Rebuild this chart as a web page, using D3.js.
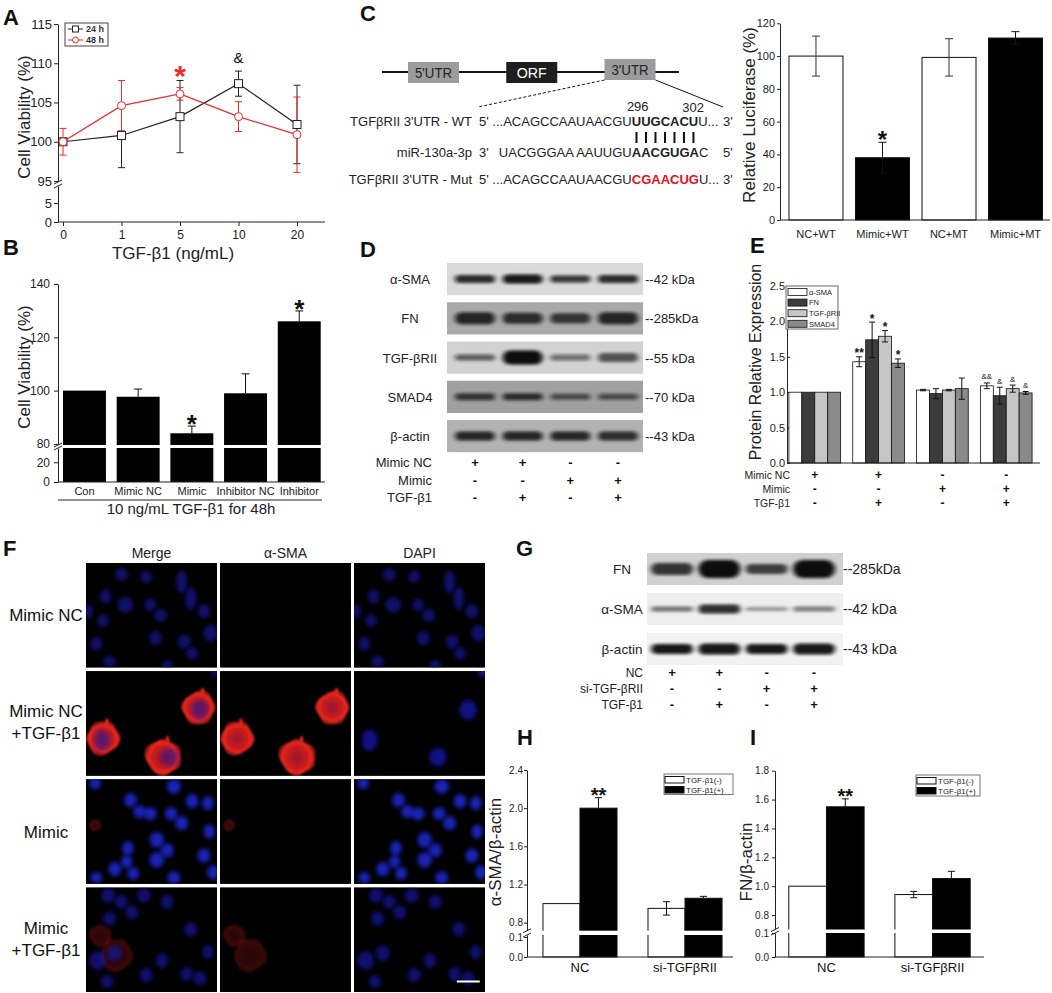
<!DOCTYPE html>
<html>
<head>
<meta charset="utf-8">
<script src="https://cdn.jsdelivr.net/npm/d3@7/dist/d3.min.js"></script>
<style>
body { margin: 0; background: #fff; }
svg { display: block; }
</style>
</head>
<body>
<script>
// ---------------- data ----------------
// A: viability vs dose
var doseLabels = ["0", "1", "5", "10", "20"];
var via24 = [100.0, 100.8, 103.2, 107.4, 102.2];
var err24 = [0.3, 4.1, 4.6, 1.6, 5.0];
var via48 = [100.0, 104.6, 106.1, 103.2, 100.9];
var err48 = [1.7, 3.2, 0.8, 1.9, 4.8];

// B: viability after 48h
var groupsB = ["Con", "Mimic NC", "Mimic", "Inhibitor NC", "Inhibitor"];
var viaB = [100, 97.7, 84.0, 99.0, 126.0];
var errB = [0, 2.9, 2.7, 7.3, 3.9];
var sigB = ["", "", "*", "", "*"];

// C: construct + luciferase
var geneParts = ["5'UTR", "ORF", "3'UTR"];
var seqNames = ["TGFβRII 3'UTR - WT", "miR-130a-3p", "TGFβRII 3'UTR - Mut"];
var seqHead = ["5' ...ACAGCCAAUAACGU", "3'", "5' ...ACAGCCAAUAACGU"];
var seqPre = ["", "UACGGGAA AAUUGU", ""];
var seqSite = ["UUGCACU", "AACGUGA", "CGAACUG"];
var seqTail = ["U...", "C", "U..."];
var seqEnd = ["3'", "5'", "3'"];
var sitePos = ["296", "302"];
var groupsLuc = ["NC+WT", "Mimic+WT", "NC+MT", "Mimic+MT"];
var lucVals = [100, 38.0, 99.2, 111.0];
var lucErr = [12.2, 9.4, 11.4, 3.9];
var lucSig = ["", "*", "", ""];

// D: western blot
var blotD = ["α-SMA", "FN", "TGF-βRII", "SMAD4", "β-actin"];
var kdaD = ["--42  kDa", "--285kDa", "--55  kDa", "--70  kDa", "--43  kDa"];
var bandD = [[0.85, 0.95, 0.8, 0.85], [0.85, 0.8, 0.75, 0.85], [0.6, 1.0, 0.5, 0.65], [0.75, 0.8, 0.6, 0.6], [0.85, 0.85, 0.85, 0.8]];
var treatD = ["Mimic NC", "Mimic", "TGF-β1"];
var signsD = [["+", "+", "-", "-"], ["-", "-", "+", "+"], ["-", "+", "-", "+"]];

// E: quantification
var proteinsE = ["α-SMA", "FN", "TGF-βRII", "SMAD4"];
var exprE = [[1, 1, 1, 1], [1.43, 1.74, 1.79, 1.41], [1.03, 0.98, 1.03, 1.05], [1.09, 0.95, 1.05, 0.99]];
var errE = [[0, 0, 0, 0], [0.07, 0.25, 0.08, 0.06], [0.01, 0.07, 0.01, 0.15], [0.04, 0.12, 0.05, 0.02]];
var sigE = [["", "", "", ""], ["**", "*", "*", "*"], ["", "", "", ""], ["&&", "&", "&", "&"]];

// F: immunofluorescence
var colsF = ["Merge", "α-SMA", "DAPI"];
var rowsF = [["Mimic NC"], ["Mimic NC", "+TGF-β1"], ["Mimic"], ["Mimic", "+TGF-β1"]];
var nucleiF = [
  [[0.27,0.11,.045,.045],[0.46,0.13,.04,.045],[0.73,0.18,.04,.08],[0.15,0.32,.04,.05],[0.30,0.40,.055,.055],
   [0.49,0.40,.04,.045],[0.57,0.50,.045,.045],[0.80,0.34,.04,.08],[0.90,0.46,.045,.05],[0.95,0.67,.05,.06],
   [0.13,0.55,.04,.045],[0.08,0.77,.04,.05],[0.53,0.72,.045,.05],[0.75,0.75,.045,.05],[0.81,0.86,.04,.045],
   [0.18,0.94,.045,.04],[0.02,0.46,.03,.05],[0.62,0.97,.04,.03]],
  [[0.87,0.37,.06,.07],[0.12,0.66,.055,.075],[0.64,0.82,.06,.065],[0.98,0.02,.03,.03]],
  [[0.07,0.04,.04,.04],[0.34,0.20,.045,.05],[0.41,0.31,.045,.045],[0.49,0.33,.045,.045],[0.67,0.07,.05,.05],
   [0.81,0.21,.045,.05],[0.93,0.23,.04,.05],[0.65,0.33,.045,.045],[0.73,0.42,.045,.05],[0.94,0.50,.04,.05],
   [0.54,0.58,.05,.055],[0.62,0.68,.045,.05],[0.32,0.66,.04,.05],[0.54,0.77,.05,.055],[0.31,0.79,.04,.045],
   [0.22,0.86,.045,.05],[0.36,0.90,.04,.045],[0.67,0.94,.045,.045],[0.90,0.73,.045,.05],[0.08,0.94,.04,.04],[0.97,0.89,.04,.05]],
  [[0.17,0.08,.05,.05],[0.27,0.14,.045,.05],[0.44,0.08,.05,.05],[0.62,0.14,.045,.05],[0.18,0.30,.045,.05],
   [0.35,0.24,.045,.05],[0.80,0.40,.045,.05],[0.93,0.62,.04,.05],[0.09,0.70,.06,.065],[0.22,0.63,.05,.055],
   [0.58,0.70,.045,.05],[0.77,0.83,.045,.05],[0.16,0.90,.045,.045],[0.46,0.84,.045,.05],[0.87,0.87,.045,.05]]
];
var redCellsF = [[], [[0.13, 0.64, 0.12], [0.59, 0.82, 0.13], [0.86, 0.35, 0.12]], [[0.07, 0.44, 0.04]], [[0.23, 0.65, 0.12], [0.11, 0.46, 0.08]]];
var redLevelF = [0, 1, 0.3, 0.25];

// G: knockdown blot
var blotG = ["FN", "α-SMA", "β-actin"];
var kdaG = ["--285kDa", "--42  kDa", "--43  kDa"];
var bandG = [[0.8, 1.0, 0.75, 1.0], [0.55, 0.85, 0.4, 0.5], [0.95, 0.95, 0.95, 0.95]];
var treatG = ["NC", "si-TGF-βRII", "TGF-β1"];
var signsG = [["+", "+", "-", "-"], ["-", "-", "+", "+"], ["-", "+", "-", "+"]];

// H / I
var groupsHI = ["NC", "si-TGFβRII"];
var smaH = [[1.0, 2.0], [0.95, 1.056]];
var smaHErr = [[0, 0.11], [0.07, 0.02]];
var fnI = [[1.0, 1.55], [0.942, 1.053]];
var fnIErr = [[0, 0.055], [0.022, 0.05]];
var legendHI = ["TGF-β1(-)", "TGF-β1(+)"];

// ---------------- setup ----------------
var FONT = "Arial, 'Liberation Sans', Helvetica, sans-serif";
var svg = d3.select("body").append("svg").attr("width", 1052).attr("height", 993).attr("font-family", FONT);
svg.append("rect").attr("width", 1052).attr("height", 993).attr("fill", "#fff");
var defs = svg.append("defs");

defs.append("filter").attr("id", "bandBlur").attr("x", "-30%").attr("y", "-100%").attr("width", "160%").attr("height", "300%")
  .append("feGaussianBlur").attr("stdDeviation", "2.4 1.4");
defs.append("filter").attr("id", "cellBlur").attr("x", "-50%").attr("y", "-50%").attr("width", "200%").attr("height", "200%")
  .append("feGaussianBlur").attr("stdDeviation", "1.3");
defs.append("filter").attr("id", "nucBlur").attr("x", "-60%").attr("y", "-60%").attr("width", "220%").attr("height", "220%")
  .append("feGaussianBlur").attr("stdDeviation", "2.1");
var rg = defs.append("radialGradient").attr("id", "redGrad");
rg.append("stop").attr("offset", "0%").attr("stop-color", "#9c1630");
rg.append("stop").attr("offset", "60%").attr("stop-color", "#c41c1c");
rg.append("stop").attr("offset", "86%").attr("stop-color", "#f2281e");
rg.append("stop").attr("offset", "100%").attr("stop-color", "#f2281e").attr("stop-opacity", 0.4);

function addText(g, x, y, s, o) {
  o = o || {};
  var t = g.append("text").attr("x", x).attr("y", y).text(s)
    .attr("font-size", o.size || 12)
    .attr("text-anchor", o.anchor || "start")
    .attr("fill", o.fill || "#1a1a1a");
  if (o.weight) t.attr("font-weight", o.weight);
  if (o.len) t.attr("textLength", o.len).attr("lengthAdjust", "spacingAndGlyphs");
  if (o.rotate) t.attr("transform", "rotate(" + o.rotate + "," + x + "," + y + ")");
  return t;
}

function styleAxis(a, fs) {
  a.attr("font-family", FONT).attr("font-size", fs);
  a.selectAll("path, line").attr("stroke", "#222");
  a.selectAll("text").attr("fill", "#222");
  return a;
}

function hline(g, x1, x2, y) {
  g.append("line").attr("x1", x1).attr("x2", x2).attr("y1", y).attr("y2", y).attr("stroke", "#222");
}

function errorBar(g, x, yTop, yBot, cap, color, bottomCap) {
  var c = color || "#111";
  g.append("line").attr("x1", x).attr("x2", x).attr("y1", yTop).attr("y2", yBot).attr("stroke", c);
  g.append("line").attr("x1", x - cap).attr("x2", x + cap).attr("y1", yTop).attr("y2", yTop).attr("stroke", c);
  if (bottomCap) g.append("line").attr("x1", x - cap).attr("x2", x + cap).attr("y1", yBot).attr("y2", yBot).attr("stroke", c);
}

function mark(g, x, yc, s, size, fill, weight) {
  var base = s.indexOf("*") >= 0 ? yc + 0.58 * size : yc + 0.36 * size;
  addText(g, x, base, s, {size: size, anchor: "middle", fill: fill || "#111", weight: weight});
}

function axisBreak(g, x, yA, yB) {
  g.append("rect").attr("x", x - 5).attr("y", yA).attr("width", 10).attr("height", yB - yA).attr("fill", "#fff");
  [yA, yB].forEach(function (y) {
    g.append("line").attr("x1", x - 4).attr("y1", y + 2).attr("x2", x + 4).attr("y2", y - 2).attr("stroke", "#222");
  });
}

function panelLetter(x, y, s) {
  addText(svg, x, y, s, {size: 22, weight: "bold", fill: "#111"});
}

// ---------------- A ----------------
(function () {
  var g = svg.append("g");
  var x = d3.scalePoint().domain(doseLabels).range([63, 297]);
  var yUp = d3.scaleLinear().domain([95, 115]).range([181, 24]);
  var yLo = d3.scaleLinear().domain([0, 9.5]).range([222, 186]);
  styleAxis(g.append("g").attr("transform", "translate(58,0)")
    .call(d3.axisLeft(yUp).tickValues([95, 100, 105, 110, 115]).tickSize(4).tickSizeOuter(0).tickPadding(2)), 13);
  styleAxis(g.append("g").attr("transform", "translate(58,0)")
    .call(d3.axisLeft(yLo).tickValues([0, 5]).tickSize(4).tickSizeOuter(0).tickPadding(2)), 13);
  var xa = g.append("g").attr("transform", "translate(0,222)")
    .call(d3.axisBottom(x).tickSize(4).tickSizeOuter(0).tickPadding(4));
  xa.select(".domain").remove();
  styleAxis(xa, 12);
  hline(g, 58, 325, 222);
  axisBreak(g, 58, 182, 186);

  var series = [
    {v: via24, e: err24, c: "#222", shape: "square"},
    {v: via48, e: err48, c: "#ee2a2a", shape: "circle"}
  ];
  series.forEach(function (s) {
    var line = d3.line().x(function (d, i) { return x(doseLabels[i]); }).y(function (d) { return yUp(d); });
    g.append("path").attr("d", line(s.v)).attr("fill", "none").attr("stroke", s.c).attr("stroke-width", 1.2);
    s.v.forEach(function (v, i) {
      errorBar(g, x(doseLabels[i]), yUp(v + s.e[i]), yUp(v - s.e[i]), 3.5, s.c, true);
    });
  });
  series.forEach(function (s) {
    s.v.forEach(function (v, i) {
      if (s.shape === "square") {
        g.append("rect").attr("x", x(doseLabels[i]) - 4).attr("y", yUp(v) - 4).attr("width", 8).attr("height", 8)
          .attr("fill", "#fff").attr("stroke", s.c);
      } else {
        g.append("circle").attr("cx", x(doseLabels[i])).attr("cy", yUp(v)).attr("r", 4)
          .attr("fill", "#fff").attr("stroke", s.c);
      }
    });
  });
  mark(g, x("5"), 69, "*", 30, "#ee2a2a", "bold");
  mark(g, x("10"), 58, "&", 15, "#111");

  // legend
  g.append("rect").attr("x", 65).attr("y", 23).attr("width", 43).attr("height", 23).attr("fill", "#fff").attr("stroke", "#444");
  series.forEach(function (s, i) {
    var ly = 29 + i * 11;
    g.append("line").attr("x1", 68).attr("x2", 83).attr("y1", ly).attr("y2", ly).attr("stroke", s.c);
    if (s.shape === "square") g.append("rect").attr("x", 72.5).attr("y", ly - 3).attr("width", 6).attr("height", 6).attr("fill", "#fff").attr("stroke", s.c);
    else g.append("circle").attr("cx", 75.5).attr("cy", ly).attr("r", 3).attr("fill", "#fff").attr("stroke", s.c);
    addText(g, 86, ly + 3, i === 0 ? "24 h" : "48 h", {size: 9, weight: "bold", fill: "#333"});
  });
  addText(g, 30, 117, "Cell Viability (%)", {size: 17, anchor: "middle", rotate: -90, fill: "#222"});
  addText(g, 173, 259, "TGF-β1 (ng/mL)", {size: 17, anchor: "middle", fill: "#222"});
})();
panelLetter(3, 25, "A");

// ---------------- B ----------------
(function () {
  var g = svg.append("g");
  var x = d3.scaleBand().domain(groupsB).range([58, 325.7]).paddingInner(0.2).paddingOuter(0.093);
  var yUp = d3.scaleLinear().domain([79.6, 140]).range([445, 284]);
  var yLo = d3.scaleLinear().domain([0, 34.5]).range([482, 448]);
  styleAxis(g.append("g").attr("transform", "translate(58,0)")
    .call(d3.axisLeft(yUp).tickValues([80, 100, 120, 140]).tickSize(4).tickSizeOuter(0).tickPadding(4)), 12);
  styleAxis(g.append("g").attr("transform", "translate(58,0)")
    .call(d3.axisLeft(yLo).tickValues([0, 20]).tickSize(4).tickSizeOuter(0).tickPadding(4)), 12);
  groupsB.forEach(function (k, i) {
    g.append("rect").attr("x", x(k)).attr("y", yUp(viaB[i])).attr("width", x.bandwidth())
      .attr("height", yLo(0) - yUp(viaB[i])).attr("fill", "#000");
    if (errB[i] > 0) errorBar(g, x(k) + x.bandwidth() / 2, yUp(viaB[i] + errB[i]), yUp(viaB[i]), 4, "#111", false);
    if (sigB[i]) mark(g, x(k) + x.bandwidth() / 2, yUp(viaB[i] + errB[i]) - 8.5, sigB[i], 26, "#111", "bold");
    addText(g, x(k) + x.bandwidth() / 2, 495, k, {size: 11, anchor: "middle", fill: "#222"});
  });
  g.append("rect").attr("x", 60).attr("y", 445).attr("width", 266).attr("height", 3).attr("fill", "#fff");
  axisBreak(g, 58, 445, 448);
  hline(g, 58, 325, 482);
  hline(g, 58, 322, 500);
  addText(g, 191, 514, "10 ng/mL TGF-β1 for 48h", {size: 15, anchor: "middle", fill: "#222"});
  addText(g, 30, 367, "Cell Viability (%)", {size: 17, anchor: "middle", rotate: -90, fill: "#222"});
})();
panelLetter(3, 255, "B");

// ---------------- C (construct) ----------------
(function () {
  var g = svg.append("g");
  var cx = d3.scalePoint().domain(geneParts).range([433.5, 630]);
  var boxFill = ["#9c9c9c", "#1e1e1e", "#9c9c9c"];
  var boxShift = [0, 0, -3];
  g.append("line").attr("x1", 382).attr("x2", 679).attr("y1", 72).attr("y2", 72).attr("stroke", "#111").attr("stroke-width", 2);
  geneParts.forEach(function (p, i) {
    g.append("rect").attr("x", cx(p) - 25.5).attr("y", 62 + boxShift[i]).attr("width", 51).attr("height", 21).attr("fill", boxFill[i]);
    addText(g, cx(p), 78 + boxShift[i], p, {size: 15, anchor: "middle", fill: i === 1 ? "#fff" : "#222", len: p === "ORF" ? 30 : 37});
  });
  g.append("line").attr("x1", cx("3'UTR") - 25.5).attr("y1", 80).attr("x2", 478).attr("y2", 107)
    .attr("stroke", "#111").attr("stroke-dasharray", "3,2");
  g.append("line").attr("x1", cx("3'UTR") + 25.5).attr("y1", 80).attr("x2", 723).attr("y2", 107).attr("stroke", "#111");

  var rowBase = [126, 157, 184];
  var seqX = 479, endX = 723, fs = 13;
  var siteStart = null, siteLen = null;
  seqNames.forEach(function (name, r) {
    addText(g, 472, rowBase[r], name, {size: fs, anchor: "end", fill: "#222"});
    var t = g.append("text").attr("x", seqX).attr("y", rowBase[r]).attr("font-size", fs).attr("fill", "#222");
    t.append("tspan").text(seqHead[r]);
    var pre = null;
    if (seqPre[r]) pre = t.append("tspan").text(seqPre[r]);
    var site = t.append("tspan").text(seqSite[r]).attr("font-weight", "bold");
    if (r === 2) site.attr("fill", "#e8101a");
    t.append("tspan").text(seqTail[r]);
    if (r === 0) {
      siteStart = seqX + t.select("tspan").node().getComputedTextLength();
      siteLen = site.node().getComputedTextLength();
    }
    if (pre) {
      // right-align the leading part so the seed sites line up
      var pl = pre.node().getComputedTextLength();
      pre.attr("x", siteStart - pl);
    }
    addText(g, endX, rowBase[r], seqEnd[r], {size: fs, fill: "#222"});
  });
  addText(g, siteStart + 6, 111, sitePos[0], {size: 13, anchor: "middle", fill: "#222"});
  addText(g, siteStart + siteLen - 5, 112, sitePos[1], {size: 13, anchor: "middle", fill: "#222"});
  d3.range(7).forEach(function (i) {
    var bx = siteStart + (i + 0.5) * siteLen / 7;
    g.append("line").attr("x1", bx).attr("x2", bx).attr("y1", 132).attr("y2", 143).attr("stroke", "#111").attr("stroke-width", 2);
  });
})();
panelLetter(360, 21, "C");

// ---------------- C (luciferase) ----------------
(function () {
  var g = svg.append("g");
  var x = d3.scaleBand().domain(groupsLuc).range([780, 1051.5]).paddingInner(0.188).paddingOuter(0.135);
  var y = d3.scaleLinear().domain([0, 120]).range([220, 23.3]);
  styleAxis(g.append("g").attr("transform", "translate(780,0)")
    .call(d3.axisLeft(y).tickValues(d3.range(0, 121, 20)).tickSize(3).tickSizeOuter(0).tickPadding(2)), 11);
  var fills = ["#fff", "#000", "#fff", "#000"];
  groupsLuc.forEach(function (k, i) {
    g.append("rect").attr("x", x(k)).attr("y", y(lucVals[i])).attr("width", x.bandwidth())
      .attr("height", y(0) - y(lucVals[i])).attr("fill", fills[i]).attr("stroke", "#111");
    var mx = x(k) + x.bandwidth() / 2;
    errorBar(g, mx, y(lucVals[i] + lucErr[i]), y(lucVals[i] - lucErr[i]), 4, fills[i] === "#000" ? "#111" : "#333", true);
    if (lucSig[i]) mark(g, mx, y(lucVals[i] + lucErr[i]) - 8, lucSig[i], 24, "#111", "bold");
    addText(g, mx, 238, k, {size: 11, anchor: "middle", fill: "#222"});
  });
  hline(g, 780, 1050, 220);
  addText(g, 755, 115, "Relative Luciferase (%)", {size: 17, anchor: "middle", rotate: -90, fill: "#222"});
})();

// ---------------- blots ----------------
function drawBlot(g, names, bg, bands, thick, rowY, lane, x0, x1, hw) {
  names.forEach(function (n, i) {
    var y0 = rowY(n), h = rowY.bandwidth();
    g.append("rect").attr("x", x0).attr("y", y0).attr("width", x1 - x0).attr("height", h).attr("fill", bg[i]);
    bands[i].forEach(function (v, j) {
      var th = thick[i][j];
      g.append("rect").attr("x", lane(j) - hw).attr("y", y0 + h / 2 - th / 2).attr("width", 2 * hw).attr("height", th)
        .attr("rx", th / 2).attr("fill", "#0c0c0c").attr("opacity", v).attr("filter", "url(#bandBlur)");
    });
  });
}

function signRows(g, labels, signs, lane, yBase, step, labelX, fs) {
  labels.forEach(function (l, r) {
    addText(g, labelX, yBase + r * step, l, {size: fs, anchor: "end", fill: "#222"});
    signs[r].forEach(function (s, j) {
      addText(g, lane(j), yBase + r * step, s, {size: 13, anchor: "middle", weight: "bold", fill: "#111"});
    });
  });
}

// D
(function () {
  var g = svg.append("g");
  var rowY = d3.scaleBand().domain(blotD).range([263, 452.2]).paddingInner(0.18);
  var lane = d3.scalePoint().domain(d3.range(4)).range([475, 618]);
  var bg = ["#dadada", "#a9a9a9", "#d2d2d2", "#a0a0a0", "#b2b2b2"];
  var thick = [[8, 9, 7, 8], [12, 11, 10, 12], [6, 14, 6, 9], [7, 7, 6, 6], [9, 9, 9, 9]];
  drawBlot(g, blotD, bg, bandD, thick, rowY, lane, 447, 643, 20);
  blotD.forEach(function (n, i) {
    var yc = rowY(n) + rowY.bandwidth() / 2;
    addText(g, 410, yc + 5, n, {size: 13, anchor: "middle", fill: "#222"});
    addText(g, 645, yc + 5, kdaD[i], {size: 13, fill: "#222"});
  });
  signRows(g, treatD, signsD, lane, 467, 17.5, 432, 13);
})();
panelLetter(360, 257, "D");

// ---------------- E ----------------
(function () {
  var g = svg.append("g");
  var x0 = d3.scaleBand().domain(d3.range(4)).range([787, 1034]).paddingInner(0.19).paddingOuter(0.03);
  var x1 = d3.scaleBand().domain(proteinsE).range([0, x0.bandwidth()]);
  var y = d3.scaleLinear().domain([0, 2.5]).range([463, 286]);
  var colorsE = ["#ffffff", "#3c3c3c", "#c6c6c6", "#8a8a8a"];
  styleAxis(g.append("g").attr("transform", "translate(787,0)")
    .call(d3.axisLeft(y).tickValues([0, 0.5, 1, 1.5, 2, 2.5]).tickFormat(d3.format(".1f"))
      .tickSizeInner(-3).tickSizeOuter(0).tickPadding(2)), 11);
  exprE.forEach(function (grp, gi) {
    grp.forEach(function (v, si) {
      var bx = x0(gi) + x1(proteinsE[si]);
      g.append("rect").attr("x", bx).attr("y", y(v)).attr("width", x1.bandwidth()).attr("height", y(0) - y(v))
        .attr("fill", colorsE[si]).attr("stroke", "#111").attr("stroke-width", 0.8);
      var mx = bx + x1.bandwidth() / 2;
      if (errE[gi][si] > 0) errorBar(g, mx, y(v + errE[gi][si]), y(v - errE[gi][si]), 3, "#111", true);
      if (sigE[gi][si]) {
        var isStar = sigE[gi][si].indexOf("*") >= 0;
        mark(g, mx, y(v + errE[gi][si]) - 6.5, sigE[gi][si], isStar ? 12 : 8, "#111", isStar ? "bold" : null);
      }
    });
  });
  hline(g, 787, 1040, 463);
  // legend
  g.append("rect").attr("x", 786).attr("y", 286).attr("width", 52).attr("height", 43).attr("fill", "#fff").attr("stroke", "#666");
  proteinsE.forEach(function (p, i) {
    var ly = 292 + i * 10.6;
    g.append("rect").attr("x", 788).attr("y", ly - 3.5).attr("width", 19).attr("height", 7).attr("fill", colorsE[i]).attr("stroke", "#111").attr("stroke-width", 0.8);
    addText(g, 809, ly + 2.7, p, {size: 7.5, fill: "#222"});
  });
  addText(g, 761, 362, "Protein  Relative Expression", {size: 16, anchor: "middle", rotate: -90, fill: "#222"});
  var lane = function (j) { return x0(j) + x0.bandwidth() / 2; };
  treatD.forEach(function (l, r) {
    addText(g, 790, 479 + r * 14, l, {size: 10.5, anchor: "end", fill: "#222"});
    signsD[r].forEach(function (s, j) {
      addText(g, lane(j), 479 + r * 14, s, {size: 12, anchor: "middle", weight: "bold", fill: "#111"});
    });
  });
})();
panelLetter(750, 253, "E");

// ---------------- F ----------------
(function () {
  var g = svg.append("g");
  var colX = d3.scaleBand().domain(colsF).range([86, 485]).paddingInner(0.022);
  var rowY = d3.scaleBand().domain(d3.range(4)).range([563, 992]).paddingInner(0.03);
  var nucColor = ["#12128c", "#1818a8", "#1c28c8", "#14149a"];
  var nucOpacity = [0.75, 0.8, 0.9, 0.72];
  // irregular outline for stained cells (shape profile, not data)
  var cellShape = [1.0, 1.07, 0.95, 1.08, 1.0, 0.92, 1.04, 1.1, 0.96, 1.03, 0.93, 1.06];
  colsF.forEach(function (c) {
    addText(g, colX(c) + colX.bandwidth() / 2, 558, c, {size: 14, anchor: "middle", fill: "#222"});
  });
  rowsF.forEach(function (lbl, ri) {
    var y0 = rowY(ri), h = rowY.bandwidth(), yc = y0 + h / 2;
    if (lbl.length === 1) addText(g, 46, yc + 6, lbl[0], {size: 17, anchor: "middle", fill: "#111"});
    else {
      addText(g, 46, yc - 6, lbl[0], {size: 17, anchor: "middle", fill: "#111"});
      addText(g, 46, yc + 16, lbl[1], {size: 17, anchor: "middle", fill: "#111"});
    }
    colsF.forEach(function (col, ci) {
      var x0 = colX(col), w = colX.bandwidth();
      var id = "clipF" + ri + ci;
      defs.append("clipPath").attr("id", id).append("rect").attr("x", x0).attr("y", y0).attr("width", w).attr("height", h);
      var cg = g.append("g").attr("clip-path", "url(#" + id + ")");
      cg.append("rect").attr("x", x0).attr("y", y0).attr("width", w).attr("height", h).attr("fill", "#000");
      var sx = d3.scaleLinear().domain([0, 1]).range([x0, x0 + w]);
      var sy = d3.scaleLinear().domain([0, 1]).range([y0, y0 + h]);
      if (col !== "DAPI") {
        redCellsF[ri].forEach(function (c, k) {
          var R = c[2] * w;
          var blob = d3.lineRadial()
            .angle(function (d, i) { return (i + k * 3) / cellShape.length * 2 * Math.PI; })
            .radius(function (d) { return d * R; })
            .curve(d3.curveCardinalClosed);
          var cell = cg.append("g").attr("transform", "translate(" + sx(c[0]) + "," + sy(c[1]) + ")")
            .attr("opacity", redLevelF[ri]);
          cell.append("path").attr("d", blob(cellShape)).attr("fill", "url(#redGrad)")
            .attr("stroke", "#ff3424").attr("stroke-width", 1.4).attr("stroke-opacity", 0.6).attr("filter", "url(#cellBlur)");
          if (ri === 1) {
            cell.append("ellipse").attr("cx", R * 0.25).attr("cy", -R * 1.05).attr("rx", 1.6).attr("ry", 3.5)
              .attr("fill", "#f02a20").attr("filter", "url(#cellBlur)");
          }
        });
      }
      if (col !== "α-SMA") {
        var onRed = col === "Merge" && ri === 1;
        nucleiF[ri].forEach(function (n) {
          cg.append("ellipse").attr("cx", sx(n[0])).attr("cy", sy(n[1])).attr("rx", n[2] * w * 1.1).attr("ry", n[3] * w * 1.1)
            .attr("fill", nucColor[ri]).attr("opacity", onRed ? 0.5 : nucOpacity[ri]).attr("filter", "url(#nucBlur)");
        });
      }
      if (ri === 3 && col === "DAPI") {
        cg.append("line").attr("x1", sx(0.785)).attr("x2", sx(0.96)).attr("y1", sy(0.9)).attr("y2", sy(0.9))
          .attr("stroke", "#fff").attr("stroke-width", 2);
      }
    });
  });
})();
panelLetter(3, 556, "F");

// ---------------- G ----------------
(function () {
  var g = svg.append("g");
  var rowY = d3.scaleBand().domain(blotG).range([553, 665]).paddingInner(0.2);
  var lane = d3.scalePoint().domain(d3.range(4)).range([672, 814]);
  var bg = ["#d0d0d0", "#eeeeee", "#f2f2f2"];
  var thick = [[12, 18, 10, 18], [5, 9, 4, 5], [10, 11, 10, 11]];
  drawBlot(g, blotG, bg, bandG, thick, rowY, lane, 647, 843, 21);
  blotG.forEach(function (n, i) {
    var yc = rowY(n) + rowY.bandwidth() / 2;
    addText(g, 622, yc + 5, n, {size: 13.5, anchor: "middle", fill: "#222"});
    addText(g, 843, yc + 5, kdaG[i], {size: 14, fill: "#222"});
  });
  signRows(g, treatG, signsG, lane, 677, 16, 643, 12);
})();
panelLetter(516, 556, "G");

// ---------------- H / I ----------------
function brokenBars(c) {
  var g = svg.append("g");
  var x0 = d3.scaleBand().domain(groupsHI).range(c.xr).paddingInner(c.pi).paddingOuter(c.po);
  var x1 = d3.scaleBand().domain([0, 1]).range([0, x0.bandwidth()]);
  var yUp = d3.scaleLinear().domain(c.upDom).range(c.upRange);
  var yLo = d3.scaleLinear().domain(c.loDom).range(c.loRange);
  var fmt = d3.format(".1f");
  styleAxis(g.append("g").attr("transform", "translate(" + c.ax + ",0)")
    .call(d3.axisLeft(yUp).tickValues(c.upTicks).tickFormat(fmt).tickSize(3).tickSizeOuter(0).tickPadding(c.pad)), 10);
  styleAxis(g.append("g").attr("transform", "translate(" + c.ax + ",0)")
    .call(d3.axisLeft(yLo).tickValues(c.loTicks).tickFormat(fmt).tickSize(3).tickSizeOuter(0).tickPadding(c.pad)), 10);
  var fills = ["#fff", "#000"];
  groupsHI.forEach(function (k, gi) {
    c.vals[gi].forEach(function (v, si) {
      var bx = x0(k) + x1(si);
      g.append("rect").attr("x", bx).attr("y", yUp(v)).attr("width", x1.bandwidth()).attr("height", yLo(0) - yUp(v))
        .attr("fill", fills[si]).attr("stroke", "#111");
      var e = c.errs[gi][si];
      if (e > 0) errorBar(g, bx + x1.bandwidth() / 2, yUp(v + e), si === 0 ? yUp(v - e) : yUp(v), 3.5, "#111", si === 0);
    });
    addText(g, x0(k) + x0.bandwidth() / 2, 972, k, {size: 13, anchor: "middle", fill: "#111"});
  });
  g.append("rect").attr("x", c.ax + 2).attr("y", c.upRange[0]).attr("width", c.xr[1] - c.ax)
    .attr("height", c.loRange[1] - c.upRange[0]).attr("fill", "#fff");
  axisBreak(g, c.ax, c.upRange[0], c.loRange[1]);
  hline(g, c.ax, c.xEnd, c.loRange[0]);
  var top = c.vals[0][1] + c.errs[0][1];
  mark(g, x0(groupsHI[0]) + x1(1) + x1.bandwidth() / 2, yUp(top) - 7, "**", 20, "#111", "bold");
  // legend
  g.append("rect").attr("x", c.leg[0]).attr("y", c.leg[1]).attr("width", c.leg[2]).attr("height", c.leg[3])
    .attr("fill", "#fff").attr("stroke", "#777");
  legendHI.forEach(function (l, i) {
    var ly = c.leg[1] + 5.5 + i * 10;
    g.append("rect").attr("x", c.leg[0] + 1).attr("y", ly - 3).attr("width", 19).attr("height", 6.5).attr("fill", fills[i]).attr("stroke", "#111");
    addText(g, c.leg[0] + 22, ly + 3, l, {size: 8, fill: "#222"});
  });
  addText(g, c.titleX, c.titleY, c.title, {size: 17, anchor: "middle", rotate: -90, fill: "#222"});
}

brokenBars({
  ax: 527, xr: [527, 738], pi: 0.295, po: 0.152, xEnd: 733, pad: 1,
  upDom: [0.716, 2.4], upRange: [930.7, 770], loDom: [0, 0.11], loRange: [957, 935],
  upTicks: [0.8, 1.2, 1.6, 2.0, 2.4], loTicks: [0, 0.1],
  vals: smaH, errs: smaHErr, leg: [664, 774, 69, 20.5],
  title: "α-SMA/β-actin", titleX: 501, titleY: 852
});
brokenBars({
  ax: 775, xr: [775, 984], pi: 0.29, po: 0.13, xEnd: 984, pad: 3,
  upDom: [0.70, 1.8], upRange: [929.5, 770.7], loDom: [0, 0.1], loRange: [957, 933],
  upTicks: [0.8, 1.0, 1.2, 1.4, 1.6, 1.8], loTicks: [0, 0.1],
  vals: fnI, errs: fnIErr, leg: [916, 775, 64, 21],
  title: "FN/β-actin", titleX: 752, titleY: 862
});
panelLetter(517, 745, "H");
panelLetter(750, 745, "I");
</script>
</body>
</html>
